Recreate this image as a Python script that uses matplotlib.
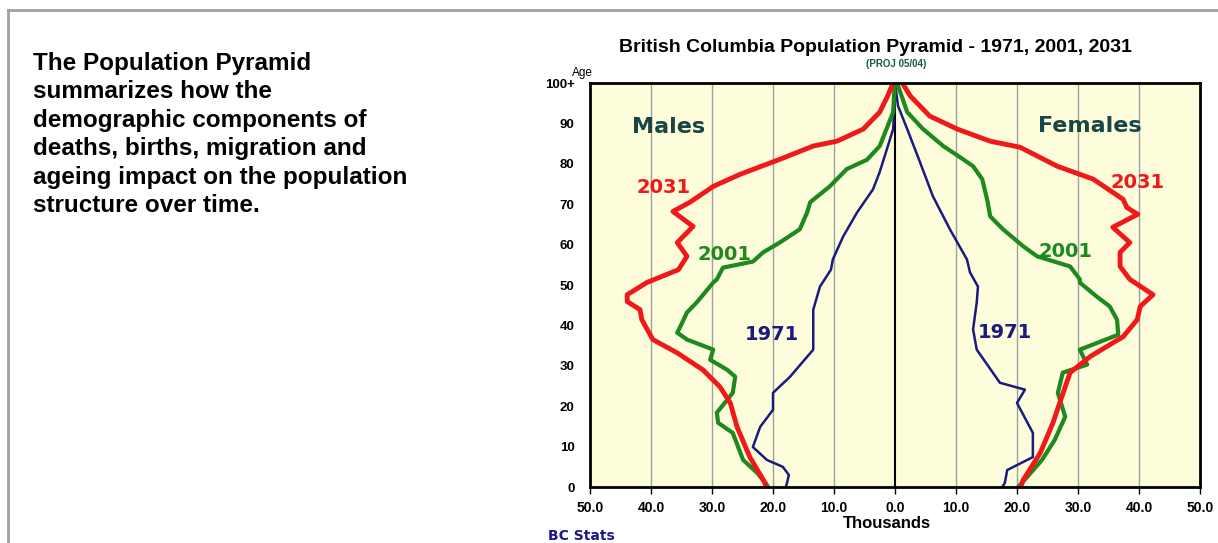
import matplotlib
matplotlib.use("Agg")
import matplotlib.pyplot as plt
from matplotlib.lines import Line2D

# values (thousands of people by age)
male_2031_age = [100, 96.8, 92.8, 88.6, 85.6, 84.4, 81.1, 77.4, 74.4, 70.5, 68.2, 64.5, 60.5, 57.1,
                 53.8, 50.6, 47.6, 45.9, 43.9, 41.4, 36.5, 33.2, 29, 24.8, 20.8, 14.9, 7.4, 1, 0]
male_2031 = [0.3, 1.2, 2.5, 5.2, 9.5, 13.4, 18.9, 25.4, 29.8, 33.6, 36.4, 33.1, 35.7, 34.1,
             35.5, 40.7, 43.9, 43.9, 41.8, 41.5, 39.7, 35.7, 31.5, 28.7, 27, 25.9, 23.8, 21.3, 21.2]

male_2001_age = [100, 98.5, 92.8, 84.4, 81, 78.7, 74.4, 70.5, 68, 63.8, 60.5, 58.1, 55.8, 54.3,
                 51.4, 50.6, 45.7, 43.2, 39.7, 38.2, 36.5, 34, 31.5, 29, 27.3, 23.3, 18.4, 15.9,
                 13.4, 6.7, 3.5, 0.5, 0]
male_2001 = [0, 0.1, 0.3, 2.5, 4.6, 7.9, 10.7, 13.9, 14.4, 15.6, 18.9, 21.6, 23.3, 28.2,
             29.2, 29.8, 32.5, 34.1, 35.2, 35.7, 34.1, 29.8, 30.3, 27.5, 26.2, 26.6, 29.2, 29,
             26.6, 24.9, 22.6, 21, 20.8]

male_1971_age = [100, 95, 88.6, 78, 73.7, 68, 62, 56.3, 53.8, 49.6, 43.9, 34, 27.3, 23.3, 19.1,
                 14.9, 9.9, 6.7, 5, 3, 1, 0]
male_1971 = [0, 0.1, 0.3, 2.5, 3.6, 6.2, 8.5, 10.2, 10.5, 12.3, 13.4, 13.4, 17.2, 20, 20,
             22.1, 23.3, 21, 18.4, 17.4, 17.7, 17.9]

female_2031_age = [100, 96.8, 91.8, 88.6, 85.6, 84.1, 79.4, 76.2, 71.2, 69.2, 67.5, 64.3, 60.5,
                   58.1, 54.6, 51.4, 47.6, 44.7, 41.4, 37.2, 32.3, 28.3, 20.8, 15.9, 8.4, 1.7, 0]
female_2031 = [1.2, 2.5, 5.7, 10.2, 15.6, 20.5, 26.6, 32.5, 37.4, 38, 39.8, 35.7, 38.5,
               36.9, 36.9, 38.5, 42.3, 40.2, 39.7, 37.4, 32, 28.7, 27, 25.9, 23.8, 21, 20.6]

female_2001_age = [100, 99.3, 92.8, 88.6, 84.4, 81.6, 79.4, 76.2, 70.5, 67, 63.8, 59.6, 57.1,
                   54.6, 51.4, 50.6, 47.1, 44.7, 41.4, 37.7, 34, 30.3, 28.3, 23.3, 17.4, 11.7,
                   6.7, 1, 0]
female_2001 = [0.2, 0.5, 2, 4.6, 7.9, 10.7, 12.8, 14.3, 15.2, 15.6, 17.7, 21, 23.3,
               28.7, 30.3, 30.3, 33.1, 35.2, 36.4, 36.6, 30.3, 31.5, 27.5, 26.7, 27.9, 26.2,
               24.1, 20.8, 20.2]

female_1971_age = [100, 94.3, 88.6, 80.4, 72, 63.8, 56.3, 53.1, 49.6, 45.7, 39, 34, 25.8, 24.1,
                   20.8, 13.4, 7.4, 4.2, 1, 0]
female_1971 = [0, 0.5, 2, 4.1, 6.2, 9, 11.8, 12.3, 13.6, 13.4, 12.8, 13.4, 17.2, 21.3,
               20, 22.6, 22.6, 18.4, 18, 17.6]

x_ticks = [-50, -40, -30, -20, -10, 0, 10, 20, 30, 40, 50]
x_tick_labels = ["50.0", "40.0", "30.0", "20.0", "10.0", "0.0", "10.0", "20.0", "30.0", "40.0", "50.0"]
y_ticks = [0, 10, 20, 30, 40, 50, 60, 70, 80, 90, 100]
y_tick_labels = ["0", "10", "20", "30", "40", "50", "60", "70", "80", "90", "100+"]

RED = "#f01818"
GREEN = "#1e8a1e"
BLUE = "#1a1a80"
TEAL = "#1a4545"

fig = plt.figure(figsize=(12.18, 5.43), dpi=100)

# slide frame
fig.add_artist(Line2D([8 / 1218, 8 / 1218], [0, 1 - 10 / 543], color="#a0a0a0", lw=2))
fig.add_artist(Line2D([8 / 1218, 1], [1 - 10 / 543, 1 - 10 / 543], color="#a0a0a0", lw=2))

fig.text(33 / 1218, 1 - 52 / 543,
         "The Population Pyramid\nsummarizes how the\ndemographic components of\n"
         "deaths, births, migration and\nageing impact on the population\nstructure over time.",
         family="Liberation Sans", weight="bold", fontsize=17.5, va="top", ha="left",
         linespacing=1.3)

ax = fig.add_axes([590 / 1218, 1 - 487 / 543, 610 / 1218, 404 / 543])
ax.set_facecolor("#fdfddc")

neg = lambda v: [-a for a in v]
ax.plot(neg(male_1971), male_1971_age, color=BLUE, lw=1.8)
ax.plot(female_1971, female_1971_age, color=BLUE, lw=1.8)
ax.plot(neg(male_2001), male_2001_age, color=GREEN, lw=3)
ax.plot(female_2001, female_2001_age, color=GREEN, lw=3)
ax.plot(neg(male_2031), male_2031_age, color=RED, lw=3.5)
ax.plot(female_2031, female_2031_age, color=RED, lw=3.5)

ax.axvline(0, color="black", lw=1.5, zorder=1)
for xv in x_ticks[1:-1]:
    if xv != 0:
        ax.axvline(xv, color="#a0a0a0", lw=1, zorder=0)

ax.set_xlim(-50, 50)
ax.set_ylim(0, 100)
ax.set_xticks(x_ticks)
ax.set_xticklabels(x_tick_labels, family="Liberation Sans", weight="bold", fontsize=10)
ax.set_yticks(y_ticks)
ax.set_yticklabels(y_tick_labels, family="Liberation Sans", weight="bold", fontsize=9.5)
ax.tick_params(axis="x", length=5, width=1, pad=5)
ax.tick_params(axis="y", length=0, pad=11)
for s in ax.spines.values():
    s.set_linewidth(2)

big = dict(family="DejaVu Sans", weight="bold", fontsize=16, ha="center", va="center", color=TEAL)
yr = dict(family="DejaVu Sans", weight="bold", fontsize=14, ha="center", va="center")
ax.text(-37.2, 89.1, "Males", **big)
ax.text(32, 89.3, "Females", **big)
ax.text(-38, 74.2, "2031", color=RED, **yr)
ax.text(39.8, 75.4, "2031", color=RED, **yr)
ax.text(-27.9, 57.6, "2001", color=GREEN, **yr)
ax.text(27.9, 58.3, "2001", color=GREEN, **yr)
ax.text(-20.2, 37.7, "1971", color=BLUE, **yr)
ax.text(18, 38.2, "1971", color=BLUE, **yr)

fig.text(887 / 1218, 1 - 524 / 543, "Thousands", family="Liberation Sans", weight="bold",
         fontsize=12, ha="center", va="center")
fig.text(875 / 1218, 1 - 48 / 543, "British Columbia Population Pyramid - 1971, 2001, 2031",
         family="Liberation Sans", weight="bold", fontsize=14, ha="center", va="center")
fig.text(896 / 1218, 1 - 64 / 543, "(PROJ 05/04)", color="#1a5a3a",
         family="Liberation Sans", weight="bold", fontsize=7, ha="center", va="center")
fig.text(582 / 1218, 1 - 73 / 543, "Age", family="Liberation Sans", fontsize=8.5,
         ha="center", va="center")
fig.text(581 / 1218, 1 - 536 / 543, "BC Stats", color=BLUE, family="DejaVu Sans",
         weight="bold", fontsize=10, ha="center", va="center")

fig.savefig("out.png", dpi=100)
